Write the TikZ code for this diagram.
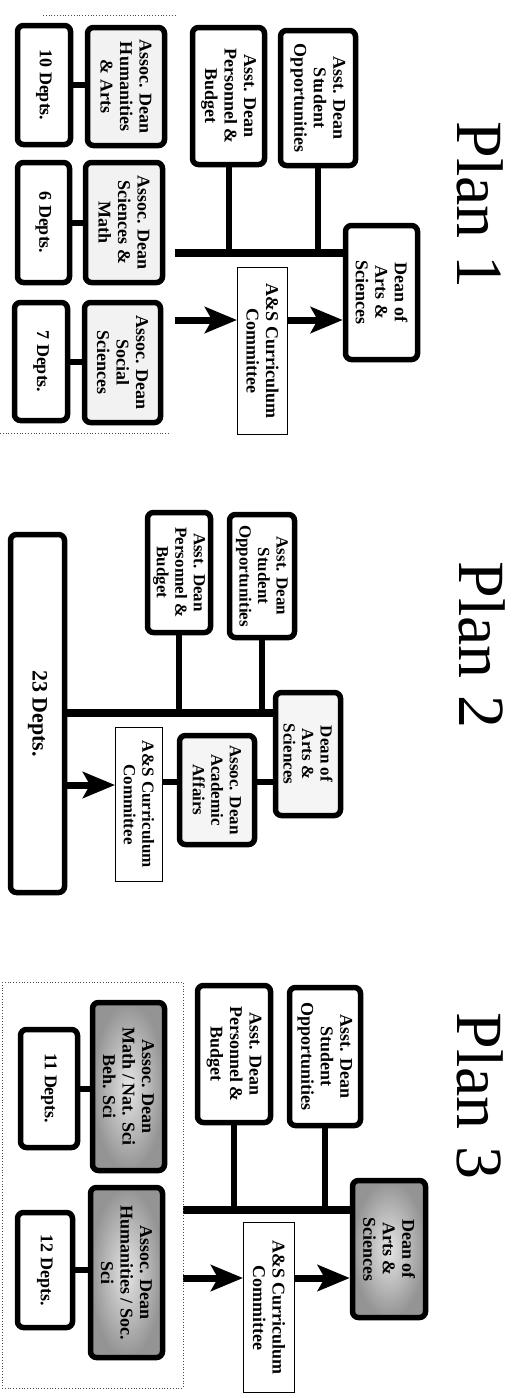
\documentclass[tikz,border=0pt]{standalone}
\usepackage{fontspec}
\setmainfont{Liberation Serif}
\usetikzlibrary{arrows.meta}
\begin{document}
\begin{tikzpicture}[x=1pt,y=-1pt,
  box/.style={draw, line width=5.5pt, rounded corners=6pt, rotate=-90, align=center,
    inner sep=0pt, font=\bfseries\fontsize{18}{19.5}\selectfont},
  thinbox/.style={draw, line width=1pt, rotate=-90, align=center,
    inner sep=0pt, font=\bfseries\fontsize{18}{19.5}\selectfont},
  title/.style={rotate=-90, inner sep=0pt, font=\fontsize{66}{70}\selectfont},
  lite/.style={fill=black!5},
  dark/.style={inner color=black!10, outer color=black!42},
  conn/.style={line width=6pt},
  barline/.style={line width=8pt},
  arr/.style={line width=7pt, -{Stealth[length=32pt,width=26pt,inset=7pt]}},
  dotline/.style={dotted, line width=0.8pt, black!70}
]
\useasboundingbox (0,0) rectangle (522,1398);
\fill[white] (0,0) rectangle (522,1398);

% ================= Plan 1 =================
\node[title] (t1) at (480,205) {Plan 1};
\node[box, minimum width=135pt, minimum height=75pt] (sopp1) at (318,98) {Asst. Dean\\Student\\Opportunities};
\node[box, minimum width=137pt, minimum height=72pt] (pers1) at (228.5,96) {Asst. Dean\\Personnel \&\\Budget};
\node[box, minimum width=134pt, minimum height=72pt] (dean1) at (381.5,292.5) {Dean of\\Arts \&\\Sciences};
\node[thinbox, minimum width=167pt, minimum height=50pt] (comm1) at (262.5,351) {A\&S Curriculum\\Committee};
\node[box, lite, minimum width=118pt, minimum height=77pt] (hum1) at (126,86.5) {Assoc. Dean\\Humanities\\\& Arts};
\node[box, minimum width=119pt, minimum height=53pt] (d10) at (44,85) {10 Depts.};
\node[box, lite, minimum width=120pt, minimum height=77pt] (sci1) at (124,222.5) {Assoc. Dean\\Sciences \&\\Math};
\node[box, minimum width=120pt, minimum height=52pt] (d6) at (43.5,222.5) {6 Depts.};
\node[box, lite, minimum width=120pt, minimum height=76pt] (soc1) at (122.5,362.5) {Assoc. Dean\\Social\\Sciences};
\node[box, minimum width=118pt, minimum height=53pt] (d7) at (41,361.5) {7 Depts.};

\coordinate (bar1) at (175,253);
\coordinate (ar1) at (175,320);
\draw[barline] (bar1) -- (bar1 -| dean1.south);
\draw[conn] (sopp1.east) -- (sopp1.east |- bar1);
\draw[conn] (pers1.east) -- (pers1.east |- bar1);
\draw[conn] (d10.north) -- (d10.north -| hum1.south);
\draw[conn] (d6.north) -- (d6.north -| sci1.south);
\draw[conn] (d7.north) -- (d7.north -| soc1.south);
\draw[arr] (ar1) -- (ar1 -| comm1.south);
\draw[arr] (comm1.north |- ar1) -- (dean1.south |- ar1);
\coordinate (dl1a) at (43,15);
\coordinate (dl1b) at (177,15);
\coordinate (dl2a) at (0,433);
\coordinate (dl2b) at (170,433);
\draw[dotline] (dl1a) -- (dl1b);
\draw[dotline] (dl2a) -- (dl2b);

% ================= Plan 2 =================
\node[title] (t2) at (482,645) {Plan 2};
\node[box, minimum width=123pt, minimum height=65pt, font=\bfseries\fontsize{17}{18.5}\selectfont] (sopp2) at (262,576) {Asst. Dean\\Student\\Opportunities};
\node[box, minimum width=120pt, minimum height=63pt, font=\bfseries\fontsize{17}{18.5}\selectfont] (pers2) at (179,572.5) {Asst. Dean\\Personnel \&\\Budget};
\node[box, minimum width=358pt, minimum height=54pt, font=\bfseries\fontsize{22}{24}\selectfont] (d23) at (37.5,713.5) {23 Depts.};
\node[box, fill=black!4, minimum width=123pt, minimum height=65pt, font=\bfseries\fontsize{17}{18.5}\selectfont] (dean2) at (308,754) {Dean of\\Arts \&\\Sciences};
\node[box, fill=black!4, minimum width=109pt, minimum height=75pt, font=\bfseries\fontsize{17}{18.5}\selectfont] (acad2) at (217,790) {Assoc. Dean\\Academic\\Affairs};
\node[thinbox, minimum width=154pt, minimum height=47pt, font=\bfseries\fontsize{17}{18.5}\selectfont] (comm2) at (139,804.5) {A\&S Curriculum\\Committee};

\coordinate (bar2) at (d23.north |- 0,713);
\coordinate (c2) at (0,782);
\coordinate (ar2) at (0,785);
\draw[barline] (bar2) -- (bar2 -| dean2.south);
\draw[conn] (sopp2.east) -- (sopp2.east |- bar2);
\draw[conn] (pers2.east) -- (pers2.east |- bar2);
\draw[conn] (dean2.south |- c2) -- (acad2.north |- c2);
\draw[conn] (acad2.south |- c2) -- (comm2.north |- c2);
\draw[arr] (d23.north |- ar2) -- (comm2.south |- ar2);

% ================= Plan 3 =================
\node[title] (t3) at (480,1096) {Plan 3};
\node[box, minimum width=138pt, minimum height=71pt] (sopp3) at (325,1056.5) {Asst. Dean\\Student\\Opportunities};
\node[box, minimum width=137pt, minimum height=73pt] (pers3) at (234,1054) {Asst. Dean\\Personnel \&\\Budget};
\node[box, dark, minimum width=137pt, minimum height=73pt] (dean3) at (389,1249) {Dean of\\Arts \&\\Sciences};
\node[thinbox, minimum width=170pt, minimum height=51pt] (comm3) at (269,1307.5) {A\&S Curriculum\\Committee};
\node[box, dark, minimum width=168pt, minimum height=72pt] (msci3) at (128.5,1086.5) {Assoc. Dean\\Math / Nat. Sci\\Beh. Sci};
\node[box, minimum width=118pt, minimum height=57pt] (d11) at (49,1088.5) {11 Depts.};
\node[box, dark, minimum width=170pt, minimum height=72pt] (hsoc3) at (126.5,1272.5) {Assoc. Dean\\Humanities / Soc.\\Sci};
\node[box, minimum width=115pt, minimum height=55pt] (d12) at (45,1270) {12 Depts.};

\coordinate (bar3) at (183,1210);
\coordinate (ar3) at (183,1278);
\draw[barline] (bar3) -- (bar3 -| dean3.south);
\draw[conn] (sopp3.east) -- (sopp3.east |- bar3);
\draw[conn] (pers3.east) -- (pers3.east |- bar3);
\draw[conn] (d11.north) -- (d11.north -| msci3.south);
\draw[conn] (d12.north) -- (d12.north -| hsoc3.south);
\draw[arr] (ar3) -- (ar3 -| comm3.south);
\draw[arr] (comm3.north |- ar3) -- (dean3.south |- ar3);
\coordinate (db1) at (2,982);
\coordinate (db2) at (183,1388);
\draw[dotline] (db1) rectangle (db2);
\end{tikzpicture}
\end{document}
